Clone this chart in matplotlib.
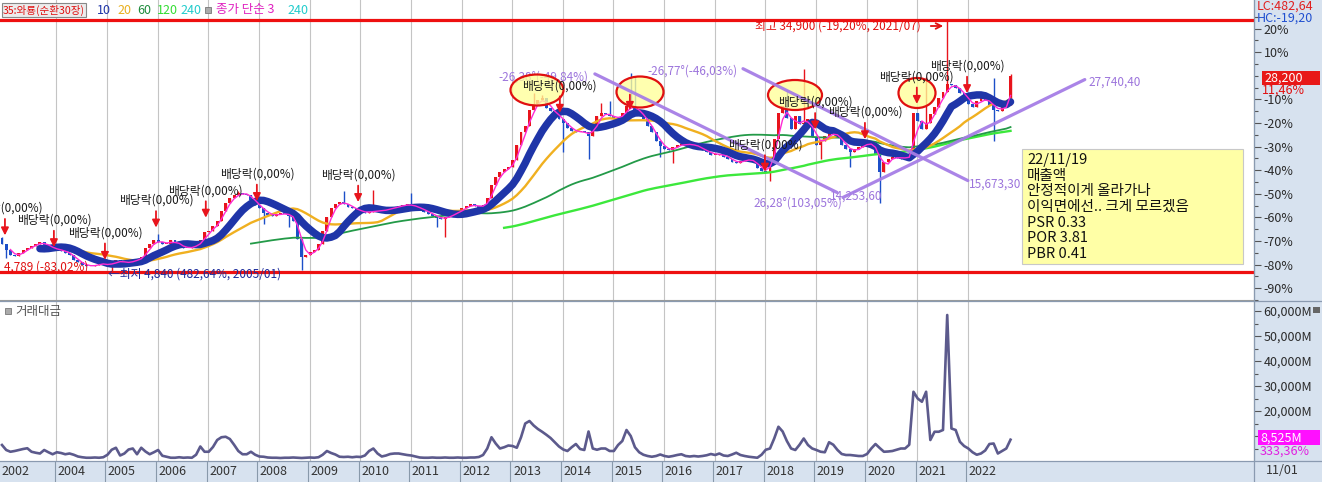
"""
Monthly candle chart with moving averages and trading value panel.
Saves out.png.
"""

import numpy as np
import pandas as pd
import matplotlib

matplotlib.use("Agg")
import matplotlib.pyplot as plt
import matplotlib.transforms as mtransforms
from matplotlib.patches import Rectangle, Ellipse
from matplotlib.lines import Line2D

plt.rcParams["font.family"] = ["Noto Sans CJK KR", "DejaVu Sans"]

W, H = 1322, 482

# ---- data (monthly, first candle = Dec 2002) ----
CLOSES = [
    8150, 7370, 6790, 6670, 6980, 7370, 7680, 7920, 8150, 8350, 7960, 7680,
    7530, 7370, 7290, 7060, 6790, 6200, 5890, 5610, 5420, 5500, 5610, 5730,
    5810, 5420, 5890, 6200, 5890, 5810, 6010, 6120, 6280, 6590, 7570, 8150,
    8540, 8350, 8150, 8150, 8540, 8150, 7840, 7570, 7680, 7760, 8070, 8540,
    9520, 9710, 10300, 10880, 12060, 13030, 13540, 13930, 14200, 14090, 13930, 13310,
    12760, 12370, 11860, 11590, 11470, 11670, 11740, 11670, 11470, 10880, 8740, 6590,
    6790, 7180, 7370, 8150, 9710, 11280, 12450, 12920, 13150, 12920, 12530, 12370,
    12060, 11900, 11860, 11980, 12060, 12060, 12140, 12210, 12450, 12530, 12640, 12760,
    12840, 12640, 12450, 12250, 11980, 11740, 11470, 11200, 11080, 11280, 11590, 11740,
    12060, 12370, 12640, 12840, 12640, 12450, 12760, 13620, 15180, 16160, 16740, 17060,
    17330, 18110, 19870, 21430, 22210, 24160, 24870, 25260, 25530, 24360, 23970, 23580,
    22990, 22520, 21900, 21620, 21430, 21510, 21430, 20960, 22210, 23380, 23770, 23580,
    23380, 23070, 23190, 23770, 24630, 24550, 24160, 23580, 22990, 22210, 21430, 20450,
    19790, 19400, 19280, 19670, 19940, 20060, 19870, 20060, 19870, 19480, 19280, 19090,
    18770, 18770, 18890, 18500, 18300, 17910, 17720, 17990, 18300, 18110, 17840, 17210,
    16820, 16740, 18300, 20650, 23770, 24550, 23190, 21820, 23380, 22410, 22600, 22990,
    20840, 19940, 20450, 21040, 21350, 21230, 20840, 19940, 19480, 19090, 19400, 19670,
    20060, 20180, 19870, 18890, 16740, 17910, 18300, 18500, 18380, 18300, 18460, 18620,
    23770, 22800, 21820, 22600, 23580, 24480, 25530, 26310, 27210, 27090, 26700, 26190,
    25530, 24870, 24480, 25140, 25530, 25260, 24750, 24160, 23970, 24550, 24750, 28200,
]
FIRST_OPEN = 8800

HIGH_MONTHS = [0, 37, 56, 81, 88, 97, 126, 128, 142, 144, 149, 150,
               186, 190, 219, 224, 233, 235, 239]
HIGH_VALUES = [8930, 9320, 14400, 14400, 14600, 14200, 26110, 25920, 24940, 25140, 28540, 28070,
               26500, 29040, 28070, 34900, 26310, 27870, 28460]
LOW_MONTHS = [1, 26, 62, 68, 71, 103, 105, 133, 139, 156, 159, 182, 194, 201, 208, 235]
LOW_VALUES = [6400, 4840, 10500, 10100, 5030, 10100, 8930, 19080, 18300, 18500, 17720,
              15570, 18300, 17330, 13030, 20450]

# trading value, million won
VALUE_M = [
    6400, 4400, 3700, 4000, 4400, 4800, 5100, 3700, 3300, 3000, 4400, 3500,
    2700, 3500, 3200, 2700, 3000, 2500, 1800, 1500, 1300, 1300, 1400, 1300,
    1500, 2500, 4500, 5300, 2200, 3000, 4600, 5000, 2700, 5300, 3800, 2700,
    3500, 4400, 2100, 1700, 1300, 1300, 1500, 1300, 1400, 1300, 2500, 5800,
    3700, 3700, 5600, 8400, 9500, 9700, 8800, 6500, 4000, 2700, 2700, 3700,
    2500, 1800, 1700, 1400, 1300, 1300, 1200, 1300, 1300, 1400, 1300, 1200,
    1300, 1400, 1300, 1500, 2500, 4000, 3200, 2600, 1700, 1600, 1700, 1500,
    1700, 1600, 2200, 4000, 5000, 3000, 1800, 2200, 2800, 3000, 3000, 2700,
    2400, 2200, 1800, 1400, 1300, 1300, 1400, 1300, 1300, 1400, 1300, 1300,
    1400, 1300, 1300, 1400, 1400, 1600, 2400, 5000, 9500, 7000, 5000, 5500,
    6200, 6000, 5300, 9500, 15000, 16000, 14200, 12800, 11700, 10500, 9200, 7500,
    5800, 4600, 4000, 5500, 6800, 4800, 4400, 11800, 5000, 4500, 5000, 5000,
    4000, 4000, 6400, 8000, 12400, 10000, 5500, 3500, 2500, 2000, 1700, 2000,
    2600, 2000, 1700, 2000, 2400, 2700, 2000, 1800, 2000, 1800, 2000, 2300,
    2800, 2400, 3000, 2200, 2000, 2600, 3300, 2400, 2000, 1700, 1500, 1300,
    2500, 4500, 5000, 9000, 13700, 11800, 8000, 5000, 4400, 6500, 9000, 6400,
    5000, 4400, 3700, 3500, 7500, 6500, 4400, 2800, 2400, 2400, 2200, 2000,
    2000, 2800, 5000, 6800, 5200, 3700, 3800, 4000, 4500, 5000, 5000, 6500,
    27700, 25000, 23700, 27700, 8400, 11700, 11700, 12400, 58400, 13000, 12400, 7700,
    6000, 5000, 3500, 2500, 3000, 4200, 6800, 7000, 3000, 4000, 5000, 8525,
]

LAST_PRICE = 28200
HIGH_LINE = 34900
LOW_LINE = 4789
PCT_TICKS = [20, 10, -10, -20, -30, -40, -50, -60, -70, -80, -90]
VALUE_TICKS = [10000, 20000, 30000, 40000, 50000, 60000]
YEAR_LABELS = ["2004", "2005", "2006", "2007", "2008", "2009", "2010", "2011", "2012",
               "2013", "2014", "2015", "2016", "2017", "2018", "2019", "2020", "2021", "2022"]

# dividend markers (month position, arrow tip price, show text)
DIV_MONTHS = [0.7, 12.3, 24.4, 36.5, 48.3, 60.4, 84.4, 132.2, 148.8, 180.8, 192.7, 204.5, 216.8, 228.7]
DIV_TIPS = [9130, 7720, 6200, 10060, 11240, 13230, 13110, 23770, 24120, 16740, 21780, 20610, 24830, 26120]
DIV_TEXT = [True, True, True, True, True, True, True, True, False, True, True, True, True, True]

# trend lines: start month, start price, end month, end price
TREND_X0 = [140.5, 175.6, 199.3]
TREND_Y0 = [28416, 29040, 13662]
TREND_X1 = [197.9, 228.9, 256.6]
TREND_Y1 = [14253, 15673, 27740]

MEMO_LINES = ["22/11/19", "매출액", "안정적이게 올라가나", "이익면에선.. 크게 모르겠음",
              "PSR 0.33", "POR 3.81", "PBR 0.41"]

RED = "#e8141c"
BLUE = "#1c4fc8"
STRIP = "#d7e2ef"
PURPLE = "#a67de6"

fig = plt.figure(figsize=(W / 100, H / 100), dpi=100)
px = mtransforms.Affine2D().scale(1 / W, -1 / H).translate(0, 1) + fig.transFigure

# right axis strip background
fig.add_artist(Rectangle((1254 / W, 0), 68 / W, 1, transform=fig.transFigure,
                         facecolor=STRIP, edgecolor="none", zorder=-1))

ax = fig.add_axes([0, 1 - 300 / H, 1254 / W, 300 / H])
axv = fig.add_axes([0, 1 - 461 / H, 1254 / W, 160 / H])
axd = fig.add_axes([0, 0, 1254 / W, 21 / H])

XLIM = (-0.47, 296.7)
idx = np.arange(len(CLOSES))
close = np.array(CLOSES, dtype=float)
open_ = np.r_[FIRST_OPEN, close[:-1]]
high = np.maximum(open_, close)
low = np.minimum(open_, close)
for m, v in zip(HIGH_MONTHS, HIGH_VALUES):
    high[m] = max(high[m], v)
for m, v in zip(LOW_MONTHS, LOW_VALUES):
    low[m] = min(low[m], v)
colors = np.where(close >= open_, RED, BLUE)

grid_pos = [12.9 + 12 * k for k in range(len(YEAR_LABELS))]

# ---- price panel ----
for g in grid_pos:
    ax.axvline(g, color="#c4c4c4", lw=0.8, zorder=0)

ax.vlines(idx, low, high, colors=colors, lw=1.0, zorder=2)
ax.bar(idx, np.maximum(np.abs(close - open_), 120), bottom=np.minimum(open_, close),
       width=0.7, color=colors, zorder=2)

s = pd.Series(close)
ax.plot(idx, s.rolling(120).mean(), color="#3ce83c", lw=1.7, zorder=3)
ax.plot(idx, s.rolling(60).mean(), color="#239a48", lw=1.3, zorder=3)
ax.plot(idx, s.rolling(20).mean(), color="#f0b020", lw=1.7, zorder=3)
ax.plot(idx, s.rolling(10).mean(), color="#1f35a8", lw=5.4, zorder=3,
        solid_capstyle="round")
ax.plot(idx, s.rolling(3).mean(), color="#ff2ad4", lw=1.0, zorder=3)

ax.axhline(HIGH_LINE, color="#ee1010", lw=2.3, zorder=4)
ax.axhline(LOW_LINE, color="#ee1010", lw=2.3, zorder=4)

# highlighted areas
for cx, cy, ew, eh in [(537, 90, 53, 31), (640, 92, 47, 31), (795, 95, 54, 30), (917, 93, 37, 30)]:
    ax.add_patch(Ellipse((cx, cy), ew, eh, transform=px, facecolor=(1, 1, 0.6, 0.78),
                         edgecolor="#e01010", lw=1.6, zorder=5))

# trend line labels (under the ellipse for the first one)
ax.text(498, 77, "-26,38°(-49,84%)", transform=px, color="#9c74dc", fontsize=8.5,
        va="center", zorder=4.5)
ax.text(647, 71, "-26,77°(-46,03%)", transform=px, color="#9c74dc", fontsize=8.5,
        va="center", zorder=6)
ax.text(753, 203, "26,28°(103,05%)", transform=px, color="#9c74dc", fontsize=8.5,
        va="center", zorder=6)
ax.text(830, 196, "14,253,60", transform=px, color="#9c74dc", fontsize=8.5,
        va="center", zorder=6)
ax.text(969, 184, "15,673,30", transform=px, color="#9c74dc", fontsize=8.5,
        va="center", zorder=6)
ax.text(1088, 82, "27,740,40", transform=px, color="#9c74dc", fontsize=8.5,
        va="center", zorder=6)

for x0, y0, x1, y1 in zip(TREND_X0, TREND_Y0, TREND_X1, TREND_Y1):
    ax.plot([x0, x1], [y0, y1], color=PURPLE, lw=2.3, alpha=0.95, zorder=6,
            solid_capstyle="round")

# dividend markers
for m, tip, show in zip(DIV_MONTHS, DIV_TIPS, DIV_TEXT):
    ax.annotate(
        "배당락(0,00%)" if show else "",
        xy=(m, tip),
        xytext=(0, 19.5 if show else 12),
        textcoords="offset points",
        ha="center",
        va="center",
        fontsize=8.5,
        color="#1a1a1a",
        zorder=7,
        arrowprops=dict(arrowstyle="-|>", color=RED, lw=1.3, mutation_scale=11,
                        shrinkA=1, shrinkB=0),
    )

# high / low notes
ax.text(755, 26, "최고 34,900 (-19,20%, 2021/07)", transform=px, color="#e01010",
        fontsize=8.5, va="center", zorder=7)
ax.annotate("", xy=(946, 26), xytext=(928, 26), xycoords=px, textcoords=px,
            arrowprops=dict(arrowstyle="->", color="#e01010", lw=1.3), zorder=7)
ax.text(4, 267, "4,789 (-83,02%)", transform=px, color="#e01010", fontsize=8.5,
        va="center", zorder=7)
ax.text(108, 274, "←최저 4,840 (482,64%, 2005/01)", transform=px, color="#1c2c9c",
        fontsize=8.5, va="center", zorder=7)

ax.set_xlim(*XLIM)
ax.set_ylim(2097, 37245)
ax.set_xticks([])
ax.yaxis.tick_right()
ax.set_yticks([LAST_PRICE * (1 + p / 100) for p in PCT_TICKS])
ax.set_yticklabels([f"{p}%" for p in PCT_TICKS])
ax.set_yticks([LAST_PRICE * (1 + p / 100) for p in range(-95, 30, 5)], minor=True)
ax.tick_params(axis="y", which="major", direction="out", length=5, width=0.8,
               colors="#555555", labelcolor="#2a2a2a", labelsize=9, pad=2)
ax.tick_params(axis="y", which="minor", direction="out", length=3, width=0.8, colors="#555555")
for sp in ["top", "left"]:
    ax.spines[sp].set_visible(False)
ax.spines["right"].set_color("#8a9ab0")
ax.spines["bottom"].set_color("#9a9a9a")

# ---- legend row ----
fig.text(3, 10, "35:와룡(순환30장)", transform=px, color="#e01010", fontsize=7.6, va="center",
         bbox=dict(boxstyle="square,pad=0.1", facecolor="#ececec", edgecolor="#888888", lw=0.8))
for x, label, c in [(97, "10", "#1f35a8"), (117, "20", "#e8b020"), (137, "60", "#1e8c3c"),
                    (157, "120", "#33dd33"), (180, "240", "#22cccc")]:
    fig.text(x, 10, label, transform=px, color=c, fontsize=9, va="center")
fig.add_artist(Rectangle((205, 7), 6, 6, transform=px, facecolor="#aaaaaa",
                         edgecolor="#777777", lw=0.6))
fig.text(216, 10, "종가 단순 3", transform=px, color="#e020c0", fontsize=9, va="center")
fig.text(287, 10, "240", transform=px, color="#22cccc", fontsize=9, va="center")

# ---- right strip labels ----
fig.text(1257, 6, "LC:482,64", transform=px, color="#e02020", fontsize=9, va="center")
fig.text(1257, 18, "HC:-19,20", transform=px, color="#2050d0", fontsize=9, va="center")
fig.add_artist(Rectangle((1262, 71), 58, 14, transform=px, facecolor="#e81818",
                         edgecolor="none"))
fig.text(1264, 78, "28,200", transform=px, color="white", fontsize=9, va="center")
fig.text(1262, 90, "11,46%", transform=px, color="#e01010", fontsize=9, va="center")

# ---- memo box ----
fig.add_artist(Rectangle((1022, 149), 221, 115, transform=px, facecolor="#ffffa6",
                         edgecolor="#c8c8c8", lw=0.8, zorder=8))
for k, line in enumerate(MEMO_LINES):
    fig.text(1027, 160 + 15.7 * k, line, transform=px, color="#111111", fontsize=10.5,
             va="center", zorder=9)

# ---- trading value panel ----
for g in grid_pos:
    axv.axvline(g, color="#c4c4c4", lw=0.8, zorder=0)
axv.plot(idx, VALUE_M, color="#5c5a8c", lw=1.9, zorder=2)
axv.set_xlim(*XLIM)
axv.set_ylim(0, 64000)
axv.set_xticks([])
axv.yaxis.tick_right()
axv.set_yticks(VALUE_TICKS)
axv.set_yticklabels([f"{v:,}M" for v in VALUE_TICKS])
axv.set_yticks(range(5000, 64000, 5000), minor=True)
axv.tick_params(axis="y", which="major", direction="out", length=5, width=0.8,
                colors="#555555", labelcolor="#2a2a2a", labelsize=9, pad=2)
axv.tick_params(axis="y", which="minor", direction="out", length=3, width=0.8, colors="#555555")
for sp in ["top", "left", "bottom"]:
    axv.spines[sp].set_visible(False)
axv.spines["right"].set_color("#8a9ab0")

fig.add_artist(Rectangle((5, 308), 6, 6, transform=px, facecolor="#aaaaaa",
                         edgecolor="#777777", lw=0.6))
fig.text(15, 311, "거래대금", transform=px, color="#555555", fontsize=9, va="center")

fig.add_artist(Rectangle((1258, 430), 62, 15, transform=px, facecolor="#ff10ff",
                         edgecolor="none", zorder=3))
fig.text(1260, 438, "8,525M", transform=px, color="white", fontsize=9, va="center", zorder=4)
fig.text(1260, 451, "333,36%", transform=px, color="#e020e0", fontsize=9, va="center", zorder=4)
fig.add_artist(Rectangle((1313, 307), 7, 6, transform=px, facecolor="#666666",
                         edgecolor="none"))

# ---- date strip ----
axd.set_facecolor(STRIP)
axd.set_xlim(*XLIM)
axd.set_ylim(0, 1)
axd.set_xticks([])
axd.set_yticks([])
for sp in axd.spines.values():
    sp.set_visible(False)
axd.text(-0.2, 0.5, "2002", transform=axd.get_xaxis_transform(), fontsize=9,
         color="#333333", va="center")
for g, label in zip(grid_pos, YEAR_LABELS):
    axd.axvline(g - 0.4, color="#8899aa", lw=0.8)
    axd.text(g + 0.2, 0.5, label, transform=axd.get_xaxis_transform(), fontsize=9,
             color="#333333", va="center")
fig.text(1266, 471, "11/01", transform=px, color="#333333", fontsize=9, va="center")

# frame lines
for xs, ys in [([0, W], [300.5, 300.5]), ([0, W], [461, 461]), ([1254, 1254], [0, H])]:
    fig.add_artist(Line2D(xs, ys, transform=px, color="#8a9ab0", lw=0.9))

fig.savefig("out.png", dpi=100)
